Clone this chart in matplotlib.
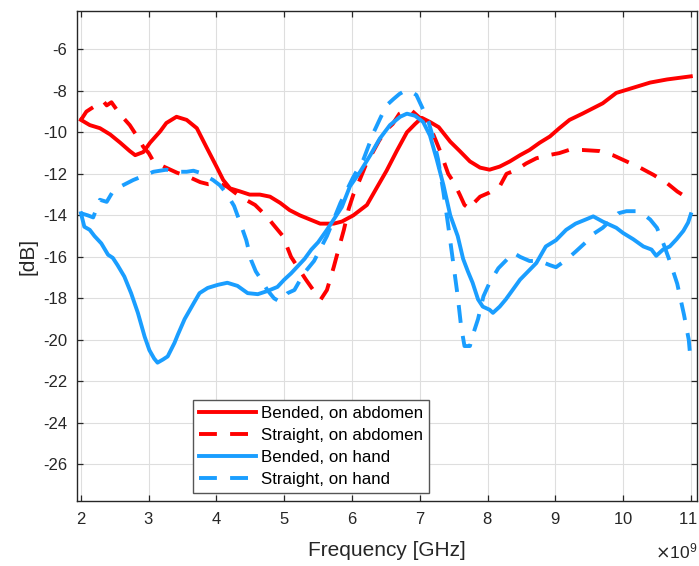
import matplotlib
matplotlib.use('Agg')
import matplotlib.pyplot as plt
import matplotlib.transforms as mtransforms
from matplotlib.ticker import ScalarFormatter
import numpy as np

plt.rcParams['font.family'] = ['Liberation Sans', 'DejaVu Sans']
plt.rcParams['axes.unicode_minus'] = False

# Frequencies in GHz (scaled to Hz when plotting), values in dB
f_bend_abd = [2.0, 2.13, 2.28, 2.43, 2.58, 2.72, 2.8, 2.92, 3.02, 3.17, 3.26, 3.41, 3.56, 3.71,
              3.85, 4.0, 4.1, 4.2, 4.35, 4.49, 4.64, 4.79, 4.94, 5.08, 5.23, 5.38, 5.53, 5.73,
              5.85, 6.02, 6.22, 6.36, 6.51, 6.66, 6.81, 6.93, 7.03, 7.15, 7.28, 7.45, 7.59,
              7.74, 7.89, 8.03, 8.18, 8.33, 8.48, 8.62, 8.77, 8.92, 9.06, 9.21, 9.4, 9.7, 9.9,
              10.15, 10.4, 10.65, 11.0]
s_bend_abd = [-9.4, -9.65, -9.8, -10.1, -10.5, -10.9, -11.1, -10.95, -10.5, -9.95, -9.55, -9.25,
              -9.4, -9.8, -10.7, -11.65, -12.3, -12.7, -12.85, -13.0, -13.0, -13.1, -13.4,
              -13.75, -14.0, -14.2, -14.4, -14.4, -14.3, -14.0, -13.5, -12.7, -11.85, -10.9,
              -10.0, -9.6, -9.3, -9.5, -9.75, -10.45, -10.9, -11.4, -11.7, -11.8, -11.65,
              -11.4, -11.1, -10.85, -10.5, -10.2, -9.8, -9.4, -9.1, -8.6, -8.1, -7.85, -7.6,
              -7.45, -7.3]

f_str_abd = [2.0, 2.08, 2.15, 2.25, 2.33, 2.38, 2.45, 2.57, 2.72, 2.85, 2.92, 3.0, 3.07, 3.22,
             3.42, 3.56, 3.76, 3.88, 4.0, 4.15, 4.35, 4.57, 4.74, 4.84, 4.98, 5.1, 5.2, 5.32,
             5.46, 5.54, 5.63, 5.73, 5.8, 5.88, 5.95, 6.02, 6.1, 6.2, 6.3, 6.4, 6.5, 6.6, 6.7,
             6.8, 6.88, 7.0, 7.1, 7.2, 7.3, 7.42, 7.5, 7.59, 7.66, 7.74, 7.8, 7.89, 8.03, 8.18,
             8.28, 8.43, 8.57, 8.72, 8.9, 9.06, 9.2, 9.4, 9.65, 9.85, 10.05, 10.25, 10.45,
             10.65, 10.8, 10.92, 11.0]
s_str_abd = [-9.4, -9.0, -8.85, -8.65, -8.5, -8.7, -8.55, -9.1, -9.65, -10.3, -10.7, -11.0,
             -11.4, -11.65, -11.95, -12.1, -12.4, -12.5, -12.45, -12.6, -13.1, -13.5, -14.05,
             -14.45, -15.0, -16.0, -16.5, -17.1, -17.75, -18.05, -17.6, -16.5, -15.65, -14.7,
             -13.7, -13.0, -12.4, -11.6, -11.0, -10.4, -9.9, -9.6, -9.1, -8.95, -8.95, -9.3,
             -9.6, -10.1, -10.9, -12.0, -12.4, -13.0, -13.5, -13.7, -13.4, -13.1, -12.9,
             -12.6, -12.0, -11.8, -11.5, -11.25, -11.1, -11.0, -10.85, -10.85, -10.9, -11.1,
             -11.4, -11.7, -12.05, -12.45, -12.85, -13.1, -12.9]

f_bend_hand = [2.0, 2.05, 2.13, 2.2, 2.3, 2.4, 2.47, 2.54, 2.64, 2.74, 2.84, 2.94, 3.01, 3.08,
               3.13, 3.21, 3.28, 3.38, 3.43, 3.53, 3.6, 3.67, 3.75, 3.87, 4.02, 4.16, 4.31,
               4.46, 4.61, 4.75, 4.9, 5.0, 5.1, 5.2, 5.3, 5.4, 5.5, 5.63, 5.73, 5.85, 5.97,
               6.12, 6.27, 6.41, 6.56, 6.71, 6.81, 6.93, 7.05, 7.15, 7.25, 7.35, 7.45, 7.56,
               7.64, 7.71, 7.78, 7.86, 7.93, 8.03, 8.08, 8.18, 8.27, 8.37, 8.48, 8.57, 8.72,
               8.86, 9.01, 9.16, 9.3, 9.45, 9.56, 9.7, 9.8, 9.9, 10.0, 10.15, 10.3, 10.42,
               10.49, 10.59, 10.69, 10.79, 10.89, 10.96, 11.0]
s_bend_hand = [-13.9, -14.55, -14.7, -15.0, -15.35, -15.9, -16.05, -16.4, -16.95, -17.75,
               -18.7, -19.85, -20.5, -20.9, -21.1, -20.95, -20.8, -20.15, -19.75, -19.0,
               -18.6, -18.2, -17.75, -17.5, -17.35, -17.25, -17.4, -17.75, -17.8, -17.65,
               -17.45, -17.1, -16.8, -16.45, -16.1, -15.65, -15.3, -14.7, -14.2, -13.6, -12.6,
               -11.9, -11.1, -10.3, -9.65, -9.25, -9.1, -9.2, -9.5, -10.15, -11.3, -12.55,
               -14.0, -15.0, -16.1, -16.7, -17.25, -18.05, -18.4, -18.55, -18.7, -18.4,
               -18.05, -17.6, -17.1, -16.8, -16.3, -15.5, -15.2, -14.7, -14.4, -14.2, -14.05,
               -14.3, -14.45, -14.6, -14.85, -15.15, -15.5, -15.65, -15.95, -15.65, -15.5,
               -15.15, -14.75, -14.35, -13.95]

f_str_hand = [2.0, 2.1, 2.18, 2.28, 2.38, 2.48, 2.62, 2.77, 2.92, 3.07, 3.26, 3.41, 3.56, 3.66,
              3.76, 3.95, 4.05, 4.15, 4.26, 4.36, 4.44, 4.51, 4.58, 4.66, 4.75, 4.85, 4.93,
              5.05, 5.15, 5.29, 5.44, 5.63, 5.83, 6.02, 6.17, 6.32, 6.42, 6.51, 6.61, 6.7,
              6.78, 6.88, 6.95, 7.05, 7.13, 7.2, 7.27, 7.35, 7.42, 7.49, 7.56, 7.61, 7.66,
              7.74, 7.78, 7.86, 7.94, 8.03, 8.16, 8.28, 8.38, 8.48, 8.62, 8.77, 8.92, 9.01,
              9.16, 9.3, 9.45, 9.56, 9.7, 9.83, 9.93, 10.05, 10.2, 10.3, 10.4, 10.5, 10.6,
              10.7, 10.8, 10.9, 10.97, 11.0]
s_str_hand = [-13.9, -14.0, -14.1, -13.25, -13.35, -12.8, -12.55, -12.3, -12.1, -11.9, -11.8,
              -11.9, -11.9, -11.85, -11.95, -12.3, -12.55, -12.95, -13.55, -14.45, -15.2,
              -16.15, -16.7, -17.1, -17.6, -18.0, -18.15, -17.75, -17.6, -16.8, -16.2, -15.0,
              -13.4, -12.15, -11.3, -10.0, -9.3, -8.7, -8.4, -8.15, -8.0, -8.05, -8.2, -8.9,
              -9.5, -10.3, -11.3, -12.9, -14.5, -16.2, -17.9, -19.35, -20.3, -20.3, -19.8,
              -19.0, -17.9, -17.25, -16.55, -16.15, -15.8, -16.0, -16.2, -16.2, -16.4, -16.5,
              -16.15, -15.75, -15.3, -14.9, -14.6, -14.2, -13.9, -13.8, -13.8, -13.95, -14.2,
              -14.6, -15.4, -16.3, -17.3, -18.8, -20.0, -21.1]

labels = ['Bended, on abdomen', 'Straight, on abdomen', 'Bended, on hand', 'Straight, on hand']
red = '#FF0000'
blue = '#1A9EFF'

fig = plt.figure(figsize=(6.99, 5.66), dpi=100)
ax = fig.add_axes([0.110, 0.1148, 0.887, 0.8658])

lw = 2.8
dash = (4.6, 3.4)
ax.plot(np.array(f_bend_abd) * 1e9, s_bend_abd, color=red, lw=lw, label=labels[0])
ax.plot(np.array(f_str_abd) * 1e9, s_str_abd, color=red, lw=lw, dashes=dash, label=labels[1])
ax.plot(np.array(f_bend_hand) * 1e9, s_bend_hand, color=blue, lw=lw, label=labels[2])
ax.plot(np.array(f_str_hand) * 1e9, s_str_hand, color=blue, lw=lw, dashes=dash, label=labels[3])

ax.set_xlim(1.94e9, 11.09e9)
ax.set_ylim(-27.77, -4.15)
ax.set_xticks(np.arange(2, 12) * 1e9)
ax.set_yticks(np.arange(-26, -5, 2))

fmt = ScalarFormatter(useMathText=True)
fmt.set_powerlimits((9, 9))
ax.xaxis.set_major_formatter(fmt)
ax.xaxis.get_offset_text().set_visible(False)
# exponent label drawn by hand so it sits where the reference has it
fig.text(0.997, 0.008, r'$\times\mathregular{10^{9}}$', ha='right', va='bottom',
         fontsize=12.5, color='#262626')

ax.grid(True, color='#dedede', lw=0.8)
ax.set_axisbelow(True)
for s in ax.spines.values():
    s.set_color('#262626')
    s.set_linewidth(1.0)
ax.tick_params(direction='in', length=4.5, width=0.9, top=True, right=True,
               colors='#262626', labelsize=12, pad=7)

# last x tick label sits right at the figure edge; nudge it a touch left
last = ax.xaxis.get_major_ticks()[-1].label1
last.set_transform(last.get_transform() +
                   mtransforms.ScaledTranslation(-2 / 72, 0, fig.dpi_scale_trans))

ax.set_xlabel('Frequency [GHz]', fontsize=15, color='#262626', labelpad=10)
ax.set_ylabel('[dB]', fontsize=15, color='#262626')

leg = ax.legend(loc='lower left', bbox_to_anchor=(0.187, 0.016), fontsize=12.2,
                fancybox=False, framealpha=1, edgecolor='#555555', borderaxespad=0,
                handlelength=3.35, handletextpad=0.34, labelspacing=0.42, borderpad=0.35)
leg.get_frame().set_linewidth(1.0)

fig.savefig('out.png', dpi=100)
